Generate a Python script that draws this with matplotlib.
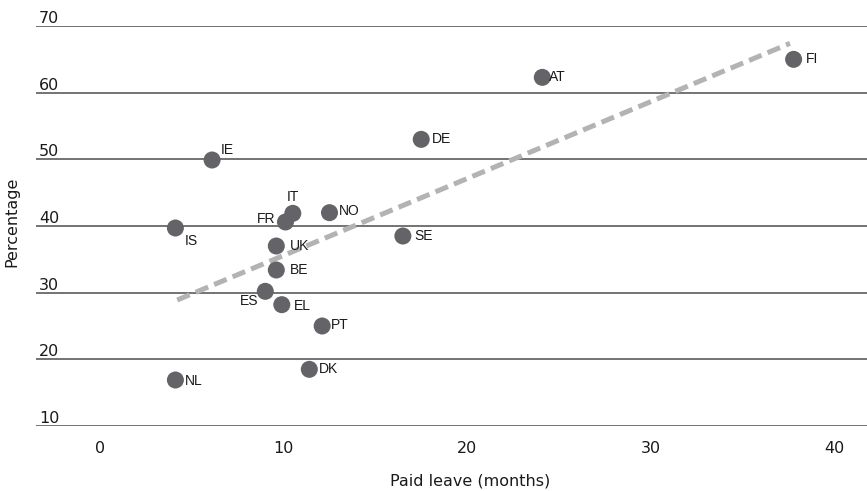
import matplotlib
matplotlib.use("Agg")
import matplotlib.pyplot as plt

countries = ["IE", "IS", "FR", "IT", "NO", "SE", "UK", "BE", "ES", "EL", "PT", "DK", "NL", "DE", "AT", "FI"]
paid_leave = [6.1, 4.1, 10.1, 10.5, 12.5, 16.5, 9.6, 9.6, 9.0, 9.9, 12.1, 11.4, 4.1, 17.5, 24.1, 37.8]
percentage = [49.9, 39.7, 40.6, 41.9, 42.0, 38.5, 37.0, 33.4, 30.2, 28.2, 25.0, 18.5, 16.9, 53.0, 62.3, 65.0]

trend_x = [4.2, 37.6]
trend_y = [28.9, 67.4]

x_ticks = [0, 10, 20, 30, 40]
y_ticks = [10, 20, 30, 40, 50, 60, 70]

# label offsets (points) and alignment per country
label_pos = {
    "IE": (6, 7, "left"), "IS": (7, -9, "left"), "FR": (-7, 2, "right"),
    "IT": (0, 12, "center"), "NO": (7, 1, "left"), "SE": (8, 0, "left"),
    "UK": (10, 0, "left"), "BE": (10, 0, "left"), "ES": (-5, -7, "right"),
    "EL": (9, -1, "left"), "PT": (6, 1, "left"), "DK": (7, 0, "left"),
    "NL": (7, -1, "left"), "DE": (8, 0, "left"), "AT": (5, 0, "left"),
    "FI": (9, 0, "left"),
}

fig = plt.figure(figsize=(8.67, 4.91), dpi=100)
ax = fig.add_axes([0.0415, 0.1324, 0.9585, 0.8146])

for y in y_ticks:
    ax.axhline(y, color="#4d4d4d", linewidth=1.1, zorder=1)

ax.plot(trend_x, trend_y, color="#b3b3b3", linewidth=3.6, dashes=(2.7, 1.3), zorder=2)
ax.scatter(paid_leave, percentage, s=150, color="#636368", edgecolors="none", zorder=3)

for name, x, y in zip(countries, paid_leave, percentage):
    dx, dy, ha = label_pos[name]
    ax.annotate(name, (x, y), xytext=(dx, dy), textcoords="offset points",
                ha=ha, va="center", fontsize=10, family="Liberation Sans", color="#1a1a1a")

ax.set_xlim(-3.5, 41.8)
ax.set_ylim(10, 70)
ax.set_xticks(x_ticks)
ax.set_xticklabels([str(t) for t in x_ticks], fontsize=11.5, color="#1a1a1a")
ax.set_yticks(y_ticks)
ax.set_yticklabels([str(t) for t in y_ticks], fontsize=11.5, color="#1a1a1a", ha="left", va="bottom")
ax.tick_params(axis="x", length=0, pad=11)
ax.tick_params(axis="y", length=0, pad=-2)
for s in ax.spines.values():
    s.set_visible(False)

fig.text(0.542, 0.02, "Paid leave (months)", fontsize=11.5, color="#1a1a1a", ha="center", va="center")
fig.text(0.014, 0.549, "Percentage", rotation=90, fontsize=11.5, color="#1a1a1a", ha="center", va="center")

fig.savefig("out.png", dpi=100)
